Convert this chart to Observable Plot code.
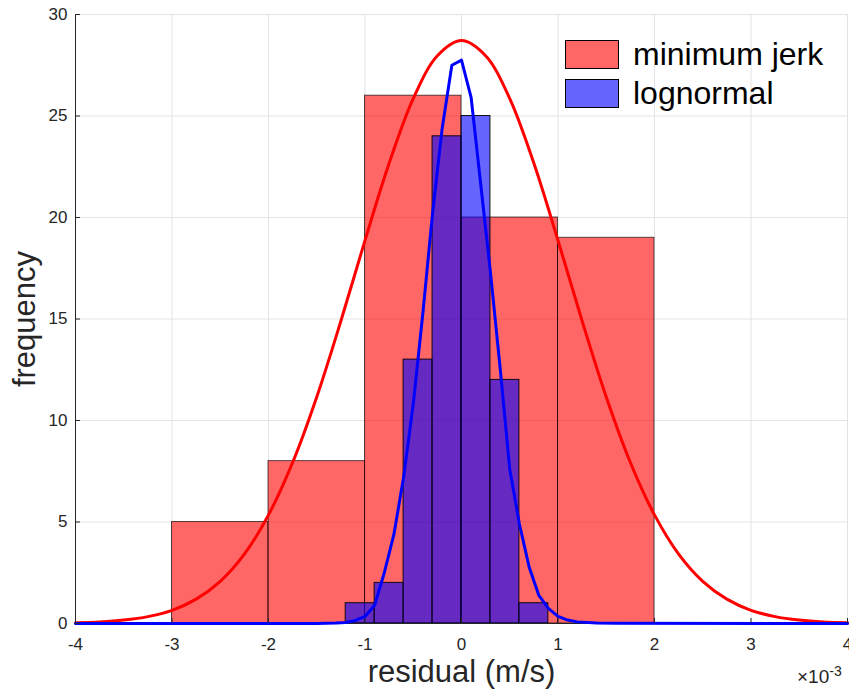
<!DOCTYPE html>
<html><head><meta charset="utf-8">
<script src="https://cdn.jsdelivr.net/npm/d3@7"></script>
<script src="https://cdn.jsdelivr.net/npm/@observablehq/plot@0.6"></script>
<style>
body{margin:0;background:#fff;font-family:"Liberation Sans",Arial,Helvetica,sans-serif;}
#wrap{position:relative;width:849px;height:694px;}
.leg{position:absolute;left:565px;display:flex;align-items:center;font-size:32px;color:#000;}
.sw{width:52px;height:27px;border:1px solid #000;margin-right:14px;}
#exp{position:absolute;left:797px;top:663px;font-size:19px;color:#262626;}
#exp sup{font-size:14px;vertical-align:7px;}
g[aria-label$="tick label"], g[aria-label$="tick label"] text{font-size:17px !important;}
</style></head><body><div id="wrap"></div>
<script>
// tick values (x in units of 1e-3 m/s)
const xTicks = [-4, -3, -2, -1, 0, 1, 2, 3, 4];
const yTicks = [0, 5, 10, 15, 20, 25, 30];

// minimum jerk histogram (bin edges, counts)
const redBinStart = [-3, -2, -1, 0, 1];
const redBinEnd   = [-2, -1, 0, 1, 2];
const redCounts   = [5, 8, 26, 20, 19];

// lognormal histogram
const blueBinStart = [-1.2, -0.9, -0.6, -0.3, 0, 0.3, 0.6];
const blueBinEnd   = [-0.9, -0.6, -0.3, 0, 0.3, 0.6, 0.9];
const blueCounts   = [1, 2, 13, 24, 25, 12, 1];

// fitted curve (minimum jerk)
const redCurveX = [-4, -3.75, -3.5, -3.25, -3, -2.75, -2.5, -2.25, -2, -1.75, -1.5, -1.25, -1, -0.75, -0.5, -0.25, 0,
                   0.25, 0.5, 0.75, 1, 1.25, 1.5, 1.75, 2, 2.25, 2.5, 2.75, 3, 3.25, 3.5, 3.75, 4];
const redCurveY = [0.04, 0.08, 0.17, 0.34, 0.65, 1.2, 2.08, 3.42, 5.35, 7.93, 11.16, 14.9, 18.87, 22.67, 25.86, 27.97, 28.72,
                   27.97, 25.86, 22.67, 18.87, 14.9, 11.16, 7.93, 5.35, 3.42, 2.08, 1.2, 0.65, 0.34, 0.17, 0.08, 0.04];

// fitted curve (lognormal)
const blueCurveX = [-4, -1.5, -1.3, -1.2, -1.1, -1.0, -0.9, -0.8, -0.7, -0.6, -0.5, -0.4, -0.3, -0.2, -0.1, 0.0,
                    0.1, 0.2, 0.3, 0.4, 0.5, 0.6, 0.7, 0.8, 0.9, 1.0, 1.1, 1.2, 1.4, 1.6, 4];
const blueCurveY = [0, 0, 0.02, 0.05, 0.15, 0.35, 0.9, 2.5, 4.4, 7.2, 10.8, 15.3, 20.2, 24.4, 27.5, 27.75,
                    25.9, 21.6, 17.3, 12.6, 7.6, 4.9, 2.8, 1.4, 0.75, 0.35, 0.17, 0.08, 0.03, 0.01, 0];

const red = redCounts.map((c, i) => ({x1: redBinStart[i], x2: redBinEnd[i], y: c}));
const blue = blueCounts.map((c, i) => ({x1: blueBinStart[i], x2: blueBinEnd[i], y: c}));
const redCurve = redCurveX.map((x, i) => ({x, y: redCurveY[i]}));
const blueCurve = blueCurveX.map((x, i) => ({x, y: blueCurveY[i]}));

const fmt = d => String(d);
const axisColor = "#262626";

const chart = Plot.plot({
  width: 849, height: 694,
  marginLeft: 75, marginRight: 2, marginTop: 14, marginBottom: 71,
  x: {domain: [-4, 4]},
  y: {domain: [0, 30]},
  style: {fontFamily: "'Liberation Sans', Arial, Helvetica, sans-serif", fontSize: "17px", color: axisColor, background: "#fff", overflow: "visible"},
  marks: [
    Plot.gridX(xTicks, {stroke: "#e3e3e3", strokeOpacity: 1}),
    Plot.gridY(yTicks, {stroke: "#e3e3e3", strokeOpacity: 1}),
    Plot.rectY(red, {x1: "x1", x2: "x2", y: "y", fill: "#ff0000", fillOpacity: 0.6, stroke: "#000", strokeOpacity: 0.65, strokeWidth: 1}),
    Plot.rectY(blue, {x1: "x1", x2: "x2", y: "y", fill: "#0000ff", fillOpacity: 0.6, stroke: "#000", strokeOpacity: 0.9, strokeWidth: 1}),
    Plot.ruleX([-4], {stroke: axisColor, strokeWidth: 1}),
    Plot.ruleY([0], {stroke: axisColor, strokeWidth: 1}),
    Plot.line(redCurve, {x: "x", y: "y", stroke: "#ff0000", strokeWidth: 3, curve: "catmull-rom"}),
    Plot.line(blueCurve, {x: "x", y: "y", stroke: "#0000ff", strokeWidth: 3}),
    Plot.axisX(xTicks, {tickSize: -5, tickPadding: 19, tickFormat: fmt, label: null, stroke: axisColor, fill: axisColor, fontSize: 17}),
    Plot.axisY(yTicks, {tickSize: -5, tickPadding: 13, tickFormat: fmt, label: null, stroke: axisColor, fill: axisColor, fontSize: 17}),
    Plot.text(["residual (m/s)"], {text: d => d, frameAnchor: "bottom", dy: 58, fontSize: 31, fill: axisColor}),
    Plot.text(["frequency"], {text: d => d, frameAnchor: "left", textAnchor: "middle", rotate: -90, dx: -50, fontSize: 31, fill: axisColor})
  ]
});

const wrap = document.getElementById("wrap");
wrap.appendChild(chart);

const legendItems = [["minimum jerk", "rgba(255,0,0,0.6)", 36], ["lognormal", "rgba(0,0,255,0.6)", 75]];
for (const [label, color, top] of legendItems) {
  const d = document.createElement("div");
  d.className = "leg";
  d.style.top = top + "px";
  d.innerHTML = `<div class="sw" style="background:${color}"></div><span>${label}</span>`;
  wrap.appendChild(d);
}
const e = document.createElement("div");
e.id = "exp";
e.innerHTML = "×10<sup>-3</sup>";
wrap.appendChild(e);
</script></body></html>
